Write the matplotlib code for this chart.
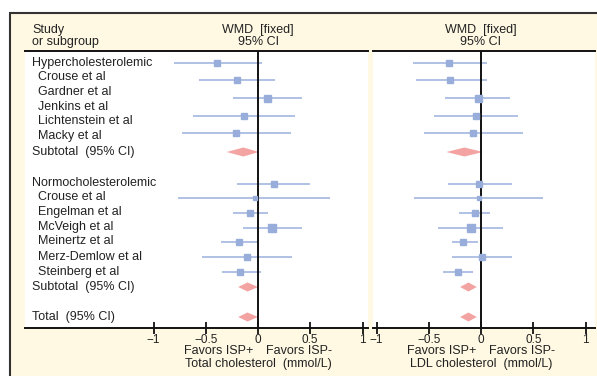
import matplotlib
matplotlib.use('Agg')
import matplotlib.pyplot as plt
from matplotlib.patches import Rectangle, Polygon
from matplotlib.transforms import blended_transform_factory

plt.rcParams['font.family'] = ['Liberation Sans', 'DejaVu Sans']

# ---- data ----
labels = ['Hypercholesterolemic', 'Crouse et al', 'Gardner et al', 'Jenkins et al',
          'Lichtenstein et al', 'Macky et al', 'Subtotal  (95% CI)',
          'Normocholesterolemic', 'Crouse et al', 'Engelman et al', 'McVeigh et al',
          'Meinertz et al', 'Merz-Demlow et al', 'Steinberg et al',
          'Subtotal  (95% CI)', 'Total  (95% CI)']
label_rows = [63, 77, 92, 107, 121, 136, 152, 183, 197, 212, 227, 241, 257, 272, 287, 317]
indent = [0, 1, 1, 1, 1, 1, 0, 0, 1, 1, 1, 1, 1, 1, 0, 0]

study_rows = [63, 80, 98, 116, 133, 184, 198, 213, 228, 242, 257, 272]
tc_est = [-0.39, -0.20, 0.09, -0.13, -0.21, 0.15, -0.03, -0.08, 0.13, -0.18, -0.11, -0.17]
tc_lo = [-0.80, -0.56, -0.24, -0.62, -0.73, -0.20, -0.77, -0.24, -0.14, -0.35, -0.54, -0.34]
tc_hi = [0.04, 0.16, 0.42, 0.35, 0.32, 0.50, 0.69, 0.10, 0.42, 0.01, 0.33, 0.03]
ldl_est = [-0.31, -0.30, -0.03, -0.05, -0.08, -0.02, -0.02, -0.06, -0.10, -0.17, 0.01, -0.22]
ldl_lo = [-0.65, -0.62, -0.34, -0.45, -0.55, -0.32, -0.64, -0.21, -0.41, -0.28, -0.28, -0.36]
ldl_hi = [0.06, 0.06, 0.28, 0.35, 0.40, 0.30, 0.59, 0.09, 0.21, -0.03, 0.30, -0.08]
marker_px = [6, 6, 7, 6, 6, 6, 5, 6, 8, 6, 6, 6]

pooled_rows = [152, 287, 317]
tc_pool_est = [-0.14, -0.10, -0.10]
tc_pool_lo = [-0.30, -0.19, -0.19]
tc_pool_hi = [0.01, 0.00, 0.00]
ldl_pool_est = [-0.16, -0.12, -0.12]
ldl_pool_lo = [-0.33, -0.20, -0.20]
ldl_pool_hi = [0.02, -0.04, -0.04]

xticks = [-1, -0.5, 0, 0.5, 1]
xticklabels = ['\u22121', '\u22120.5', '0', '0.5', '1']
xlabels = ['Total cholesterol  (mmol/L)', 'LDL cholesterol  (mmol/L)']

# ---- style ----
W, H = 597, 376
cream = '#FFF9E3'
ci_col = '#A3B6E0'
mk_col = '#98ADDA'
dia_col = '#F4A3A3'
txt = '#222222'
FS = 9

fig = plt.figure(figsize=(W / 100, H / 100), dpi=100)
fig.patch.set_facecolor('white')
fig.add_artist(Rectangle((10 / W, -0.05), 1.1, (1 - 13 / H) + 0.05,
                         transform=fig.transFigure, facecolor=cream,
                         edgecolor='#333333', lw=1.5, zorder=-5))

def px_axes(x0, x1, y0, y1):
    return fig.add_axes([x0 / W, 1 - y1 / H, (x1 - x0) / W, (y1 - y0) / H])

ax1 = px_axes(25, 368, 51, 328)
ax2 = px_axes(373, 595, 51, 328)
ax1.set_xlim((25 - 258) / 104.5, (368 - 258) / 104.5)
ax2.set_xlim((373 - 481) / 104.5, (595 - 481) / 104.5)

panels = [(ax1, tc_est, tc_lo, tc_hi, tc_pool_est, tc_pool_lo, tc_pool_hi, xlabels[0]),
          (ax2, ldl_est, ldl_lo, ldl_hi, ldl_pool_est, ldl_pool_lo, ldl_pool_hi, xlabels[1])]

for ax, est, lo, hi, pest, plo, phi, xl in panels:
    ax.set_facecolor('white')
    ax.set_ylim(328, 51)
    ax.set_yticks([])
    for s in ['left', 'right']:
        ax.spines[s].set_visible(False)
    for s in ['top', 'bottom']:
        ax.spines[s].set_linewidth(1.4)
        ax.spines[s].set_color('#111111')
    ax.axvline(0, color='#111111', lw=1.4, zorder=3)
    ax.set_xticks(xticks)
    ax.set_xticklabels(xticklabels)
    ax.tick_params(axis='x', direction='inout', length=8, width=1.3, labelsize=8.5,
                   pad=0, colors='#111111', labelcolor=txt)
    for y, e, l, h, m in zip(study_rows, est, lo, hi, marker_px):
        ax.plot([l, h], [y, y], color=ci_col, lw=1.2, zorder=2, solid_capstyle='butt')
        ax.plot([e], [y], marker='s', ms=m * 0.72, color=mk_col, mec=mk_col, zorder=4)
    for y, e, l, h in zip(pooled_rows, pest, plo, phi):
        hh = 4.5
        ax.add_patch(Polygon([(l, y), (e, y - hh), (h, y), (e, y + hh)], closed=True,
                             facecolor=dia_col, edgecolor='none', zorder=2))
    ax.text(0, 30, 'WMD  [fixed]', ha='center', va='center', fontsize=FS, color=txt, clip_on=False)
    ax.text(0, 42, '95% CI', ha='center', va='center', fontsize=FS, color=txt, clip_on=False)
    ax.text(-0.04, 351, 'Favors ISP+', ha='right', va='center', fontsize=FS, color=txt, clip_on=False)
    ax.text(0.08, 351, 'Favors ISP-', ha='left', va='center', fontsize=FS, color=txt, clip_on=False)
    ax.text(0, 364, xl, ha='center', va='center', fontsize=FS, color=txt, clip_on=False)

tr = blended_transform_factory(ax1.transAxes, ax1.transData)
for lab, y, ind in zip(labels, label_rows, indent):
    ax1.text(0.0204 if ind == 0 else 0.0379, y, lab, transform=tr, ha='left', va='center',
             fontsize=FS, color=txt, clip_on=False)
ax1.text(0.0204, 30, 'Study', transform=tr, ha='left', va='center', fontsize=FS, color=txt, clip_on=False)
ax1.text(0.0204, 42, 'or subgroup', transform=tr, ha='left', va='center', fontsize=FS, color=txt, clip_on=False)

fig.savefig('out.png', dpi=100)
